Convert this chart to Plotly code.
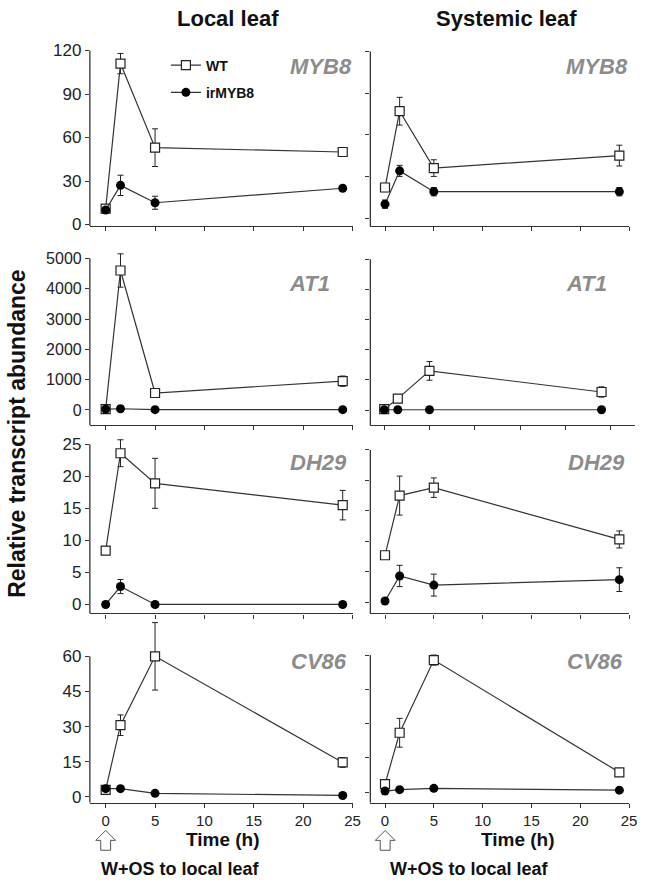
import plotly.graph_objects as go

# ---------------- data ----------------
TIME = [0, 1.5, 5, 24]
X_TICKS = [0, 5, 10, 15, 20, 25]

MYB8_LOCAL_WT = [11, 111, 53, 50]
MYB8_LOCAL_WT_ERR = [1.5, 7, 13, 2.5]
MYB8_LOCAL_IR = [10, 27, 15, 25]
MYB8_LOCAL_IR_ERR = [1, 7, 4.5, 1]

MYB8_SYS_WT = [22, 77, 36, 45]
MYB8_SYS_WT_ERR = [3, 10, 6, 7.5]
MYB8_SYS_IR = [10, 34, 19, 19]
MYB8_SYS_IR_ERR = [3, 4, 3, 3]

AT1_LOCAL_WT = [30, 4600, 560, 950]
AT1_LOCAL_WT_ERR = [20, 550, 80, 170]
AT1_LOCAL_IR = [30, 40, 10, 10]
AT1_LOCAL_IR_ERR = [0, 0, 0, 0]

AT1_SYS_WT = [30, 380, 1300, 600]
AT1_SYS_WT_ERR = [20, 50, 310, 170]
AT1_SYS_IR = [10, 10, 10, 10]
AT1_SYS_IR_ERR = [0, 0, 0, 0]

DH29_LOCAL_WT = [8.4, 23.6, 18.9, 15.5]
DH29_LOCAL_WT_ERR = [0.3, 2.1, 3.9, 2.3]
DH29_LOCAL_IR = [0, 2.8, 0, 0]
DH29_LOCAL_IR_ERR = [0, 1.1, 0, 0]

DH29_SYS_WT = [7.7, 17.5, 18.8, 10.3]
DH29_SYS_WT_ERR = [0.3, 3.2, 1.6, 1.4]
DH29_SYS_IR = [0.2, 4.3, 2.8, 3.7]
DH29_SYS_IR_ERR = [0, 1.75, 1.8, 1.95]

CV86_LOCAL_WT = [3, 30.6, 60, 14.7]
CV86_LOCAL_WT_ERR = [0.5, 4.4, 14.4, 2.1]
CV86_LOCAL_IR = [3.5, 3.5, 1.5, 0.6]
CV86_LOCAL_IR_ERR = [0.3, 0.3, 0.3, 0.2]

CV86_SYS_WT = [3.5, 26, 57.8, 8.7]
CV86_SYS_WT_ERR = [1, 6.3, 2.2, 0.5]
CV86_SYS_IR = [0.5, 1.1, 1.7, 0.9]
CV86_SYS_IR_ERR = [0.3, 0.3, 0.3, 0.3]

GENES = ["MYB8", "AT1", "DH29", "CV86"]
Y_DTICK = [30, 1000, 5, 15]

# ---------------- layout geometry (pixels) ----------------
W, H = 646, 889
PANELS = [
    # x0, x1, ytop, ybot, xrange, yrange, data
    (91, 357, 51, 228, [-1.6, 25], [-1, 120], (MYB8_LOCAL_WT, MYB8_LOCAL_WT_ERR, MYB8_LOCAL_IR, MYB8_LOCAL_IR_ERR)),
    (375, 637, 52, 228, [-1.5, 25], [-5.7, 120], (MYB8_SYS_WT, MYB8_SYS_WT_ERR, MYB8_SYS_IR, MYB8_SYS_IR_ERR)),
    (91, 357, 260.7, 429, [-1.6, 25], [-500, 5000], (AT1_LOCAL_WT, AT1_LOCAL_WT_ERR, AT1_LOCAL_IR, AT1_LOCAL_IR_ERR)),
    (375, 643, 261.7, 429, [-1.53, 27.7], [-500, 5000], (AT1_SYS_WT, AT1_SYS_WT_ERR, AT1_SYS_IR, AT1_SYS_IR_ERR)),
    (91, 357, 448.3, 619, [-1.6, 25], [-1.4, 25], (DH29_LOCAL_WT, DH29_LOCAL_WT_ERR, DH29_LOCAL_IR, DH29_LOCAL_IR_ERR)),
    (375, 637, 454, 619, [-1.5, 25], [-1.85, 25], (DH29_SYS_WT, DH29_SYS_WT_ERR, DH29_SYS_IR, DH29_SYS_IR_ERR)),
    (91, 357, 662.3, 810, [-1.6, 25], [-2.5, 60], (CV86_LOCAL_WT, CV86_LOCAL_WT_ERR, CV86_LOCAL_IR, CV86_LOCAL_IR_ERR)),
    (375, 637, 661, 810, [-1.5, 25], [-4.6, 60], (CV86_SYS_WT, CV86_SYS_WT_ERR, CV86_SYS_IR, CV86_SYS_IR_ERR)),
]
GENE_LABEL_POS = [(358, 67), (638, 67), (336, 286), (617, 286),
                  (353, 467), (635, 467), (353, 668), (633, 668)]
HEADROOM_PX = 36  # room above the axis top so error bars are not clipped


def px(x):
    return x / W


def py(y):
    return 1 - y / H


FONT = "Arial, Liberation Sans, sans-serif"
AXIS_COLOR = "#333333"
LINE_COLOR = "#333333"

fig = go.Figure()
layout = dict(
    width=W, height=H,
    margin=dict(l=0, r=0, t=0, b=0),
    paper_bgcolor="white", plot_bgcolor="rgba(0,0,0,0)",
    font=dict(family=FONT, color="#222222"),
    showlegend=True,
    legend=dict(x=px(168), y=py(50), xanchor="left", yanchor="top",
                bgcolor="rgba(0,0,0,0)", font=dict(size=14, family=FONT, color="#111", weight="bold"),
                traceorder="grouped", tracegroupgap=6),
)

annotations = []
shapes = []
for i, (x0, x1, yt, yb, xr, yr, data) in enumerate(PANELS):
    n = i + 1
    xa = "x" if n == 1 else f"x{n}"
    ya = "y" if n == 1 else f"y{n}"
    row = i // 2
    col = i % 2
    bottom = row == 3
    layout["xaxis" if n == 1 else f"xaxis{n}"] = dict(
        domain=[px(x0), px(x1)], range=xr, anchor=ya,
        showline=True, linecolor=AXIS_COLOR, linewidth=1.3,
        ticks="outside", ticklen=4, tickwidth=1, tickcolor=AXIS_COLOR,
        tickvals=X_TICKS, showticklabels=bottom,
        tickfont=dict(size=15, family=FONT, color="#222"),
        showgrid=False, zeroline=False, fixedrange=True,
    )
    unit_px = (yb - yt) / (yr[1] - yr[0])
    y_top_ext = yr[1] + HEADROOM_PX / unit_px
    ytv = []
    v = 0
    while v <= yr[1] + 1e-9:
        ytv.append(v)
        v += Y_DTICK[row]
    layout["yaxis" if n == 1 else f"yaxis{n}"] = dict(
        domain=[py(yb), py(yt - HEADROOM_PX)], range=[yr[0], y_top_ext], anchor=xa,
        showline=False,
        ticks="outside", ticklen=4, tickwidth=1, tickcolor=AXIS_COLOR,
        tickvals=ytv, showticklabels=(col == 0),
        tickfont=dict(size=16 if row == 1 else 17, family=FONT, color="#222"),
        showgrid=False, zeroline=False, fixedrange=True,
    )
    # visible y-axis line only up to the top tick
    shapes.append(dict(type="line", xref=f"{xa} domain", yref=ya, x0=0, x1=0,
                       y0=yr[0], y1=yr[1], line=dict(color=AXIS_COLOR, width=1.3)))
    wt, wt_err, ir, ir_err = data
    fig.add_trace(go.Scatter(
        x=TIME, y=wt, xaxis=xa, yaxis=ya, name="WT", legendgroup="wt",
        showlegend=(i == 0), mode="lines+markers", cliponaxis=False,
        line=dict(color=LINE_COLOR, width=1.2),
        marker=dict(symbol="square", size=9, color="white", line=dict(color="#222", width=1.2)),
        error_y=dict(type="data", array=wt_err, visible=True, color="#222", thickness=1, width=3),
    ))
    fig.add_trace(go.Scatter(
        x=TIME, y=ir, xaxis=xa, yaxis=ya, name="irMYB8", legendgroup="ir",
        showlegend=(i == 0), mode="lines+markers", cliponaxis=False,
        line=dict(color=LINE_COLOR, width=1.2),
        marker=dict(symbol="circle", size=9, color="#000"),
        error_y=dict(type="data", array=ir_err, visible=True, color="#222", thickness=1, width=3),
    ))
    gx, gy = GENE_LABEL_POS[i]
    annotations.append(dict(
        text=GENES[row], x=px(gx), y=py(gy), xref="paper", yref="paper",
        xanchor="right", yanchor="middle", showarrow=False,
        font=dict(size=22, family=FONT, color="#8c8c8c", weight="bold", style="italic"),
    ))

# column titles
for text, cx in [("Local leaf", 231), ("Systemic leaf", 513)]:
    annotations.append(dict(text=text, x=px(cx), y=py(19), xref="paper", yref="paper",
                            xanchor="center", yanchor="middle", showarrow=False,
                            font=dict(size=22, family=FONT, color="#111", weight="bold")))
# y title
annotations.append(dict(text="Relative transcript abundance", x=px(17), y=py(437),
                        xref="paper", yref="paper", xanchor="center", yanchor="middle",
                        textangle=-90, showarrow=False,
                        font=dict(size=23, family=FONT, color="#111", weight="bold")))
# bottom texts
for cx in [226, 525]:
    annotations.append(dict(text="Time (h)", x=px(cx), y=py(847), xref="paper", yref="paper",
                            xanchor="center", yanchor="middle", showarrow=False,
                            font=dict(size=19, family=FONT, color="#111", weight="bold")))
for cx in [182.5, 475]:
    annotations.append(dict(text="W+OS to local leaf", x=px(cx), y=py(877), xref="paper", yref="paper",
                            xanchor="center", yanchor="middle", showarrow=False,
                            font=dict(size=18, family=FONT, color="#111", weight="bold")))

# outline arrows (decoration)
for cx in [107, 390]:
    pts = [(cx, 838), (cx + 10, 848), (cx + 5, 848), (cx + 5, 858),
           (cx - 5, 858), (cx - 5, 848), (cx - 10, 848)]
    path = "M " + " L ".join(f"{px(a):.5f},{py(b):.5f}" for a, b in pts) + " Z"
    shapes.append(dict(type="path", path=path, xref="paper", yref="paper",
                       line=dict(color="#555", width=1), fillcolor="white"))

layout["annotations"] = annotations
layout["shapes"] = shapes
fig.update_layout(**layout)
fig.write_html("out.html",
               config={"displayModeBar": False},
               post_script="document.body.style.margin='0';document.body.style.padding='0';")
